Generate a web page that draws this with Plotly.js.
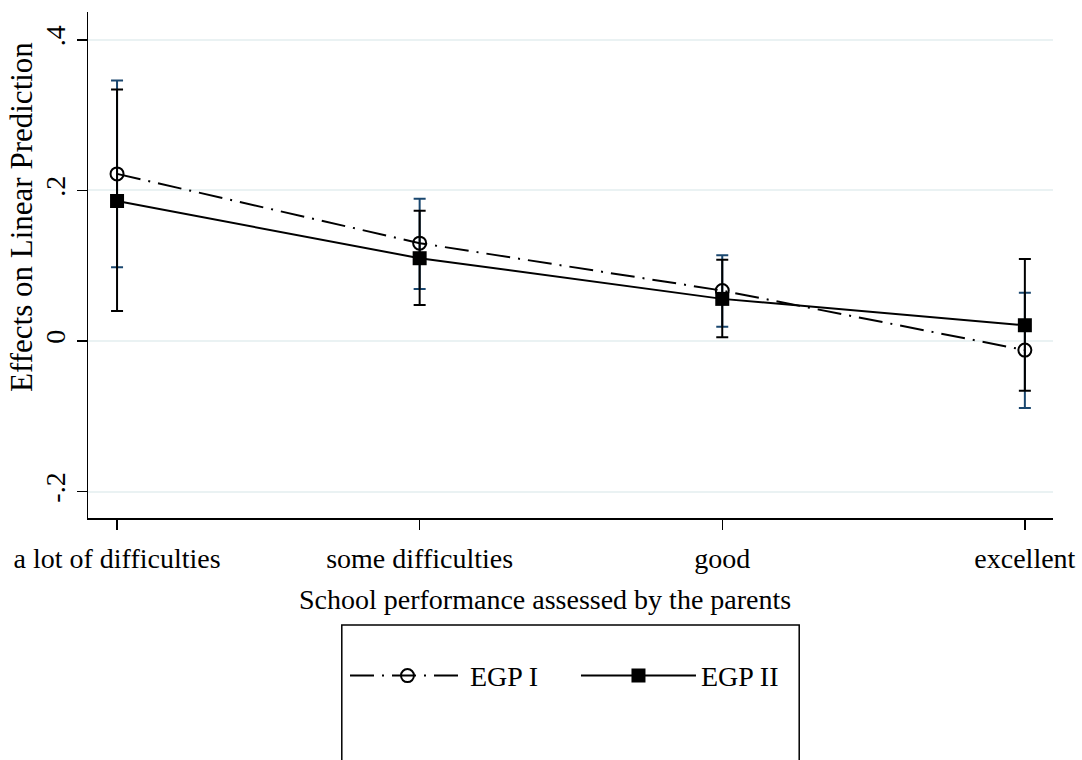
<!DOCTYPE html>
<html>
<head>
<meta charset="utf-8">
<script src="https://cdn.plot.ly/plotly-3.0.1.min.js"></script>
<style>html,body{margin:0;padding:0;background:#fff;}#chart{width:1082px;height:760px;}</style>
</head>
<body>
<div id="chart"></div>
<script>
const categories = ["a lot of difficulties", "some difficulties", "good", "excellent"];
const catPos = [1, 2, 3, 4];

const egp1Est = [0.222, 0.130, 0.067, -0.012];
const egp1Low = [0.098, 0.069, 0.019, -0.089];
const egp1Up  = [0.346, 0.189, 0.114, 0.064];

const egp2Est = [0.186, 0.110, 0.056, 0.021];
const egp2Low = [0.040, 0.048, 0.005, -0.066];
const egp2Up  = [0.334, 0.173, 0.108, 0.109];

const yTickVals = [-0.2, 0, 0.2, 0.4];
const yTickText = ["-.2", "0", ".2", ".4"];

const xTitle = "School performance assessed by the parents";
const yTitle = "Effects on Linear Prediction";

const FONT = "Liberation Serif, Times New Roman, serif";

const traces = [
  {
    x: catPos, y: egp1Est, name: "EGP I", type: "scatter", mode: "lines+markers",
    line: {color: "#000", width: 2, dash: "24px,8px,2px,8px"},
    marker: {symbol: "circle-open", size: 13, color: "#000", line: {width: 2, color: "#000"}},
    error_y: {type: "data", symmetric: false,
      array: egp1Up.map((u, i) => u - egp1Est[i]),
      arrayminus: egp1Est.map((e, i) => e - egp1Low[i]),
      color: "#1a476f", thickness: 2, width: 6}
  },
  {
    x: catPos, y: egp2Est, name: "EGP II", type: "scatter", mode: "lines+markers",
    line: {color: "#000", width: 2},
    marker: {symbol: "square", size: 14, color: "#000"},
    error_y: {type: "data", symmetric: false,
      array: egp2Up.map((u, i) => u - egp2Est[i]),
      arrayminus: egp2Est.map((e, i) => e - egp2Low[i]),
      color: "#000", thickness: 2, width: 6}
  }
];

const layout = {
  width: 1082, height: 760,
  margin: {l: 88, r: 29, t: 12, b: 242},
  paper_bgcolor: "#fff", plot_bgcolor: "#fff",
  font: {family: FONT, color: "#000", size: 28},
  showlegend: true,
  legend: {orientation: "h", x: 0.2663, xanchor: "left", y: -0.312, yanchor: "middle",
    font: {family: FONT, size: 28, color: "#000"}, bgcolor: "rgba(0,0,0,0)", borderwidth: 0,
    entrywidth: 101, itemwidth: 115},
  xaxis: {
    range: [0.904, 4.093], tickvals: catPos, ticktext: categories,
    showgrid: false, zeroline: false, showline: true, linecolor: "#000", linewidth: 1.5,
    ticks: "outside", ticklen: 10, tickwidth: 1.5, tickcolor: "#000", ticklabelstandoff: 5,
    tickfont: {family: FONT, size: 28, color: "#000"}
  },
  yaxis: {
    range: [-0.235, 0.437], tickvals: yTickVals, ticktext: yTickText, tickangle: -90,
    showgrid: true, gridcolor: "#eaf2f3", gridwidth: 2, zeroline: false,
    showline: true, linecolor: "#000", linewidth: 1.5,
    ticks: "outside", ticklen: 10, tickwidth: 1.5, tickcolor: "#000",
    tickfont: {family: FONT, size: 28, color: "#000"}
  },
  annotations: [
    {text: xTitle, xref: "paper", yref: "paper", x: 0.4736, y: -0.162, xanchor: "center", yanchor: "middle",
     showarrow: false, font: {family: FONT, size: 28, color: "#000"}},
    {text: yTitle, xref: "paper", yref: "paper", x: -0.0684, y: 0.595, xanchor: "center", yanchor: "middle",
     textangle: -90, showarrow: false, font: {family: FONT, size: 31, color: "#000"}}
  ],
  shapes: [
    {type: "line", xref: "paper", yref: "y", x0: 0, x1: 1, y0: 0, y1: 0,
     line: {color: "#000", width: 2, dash: "14px,8px"}, layer: "below"},
    {type: "rect", xref: "paper", yref: "paper", x0: 0.263, x1: 0.737, y0: -0.2115, y1: -0.6,
     line: {color: "#000", width: 1.5}, fillcolor: "rgba(0,0,0,0)"}
  ]
};

Plotly.newPlot("chart", traces, layout, {displayModeBar: false, staticPlot: true});
</script>
</body>
</html>
